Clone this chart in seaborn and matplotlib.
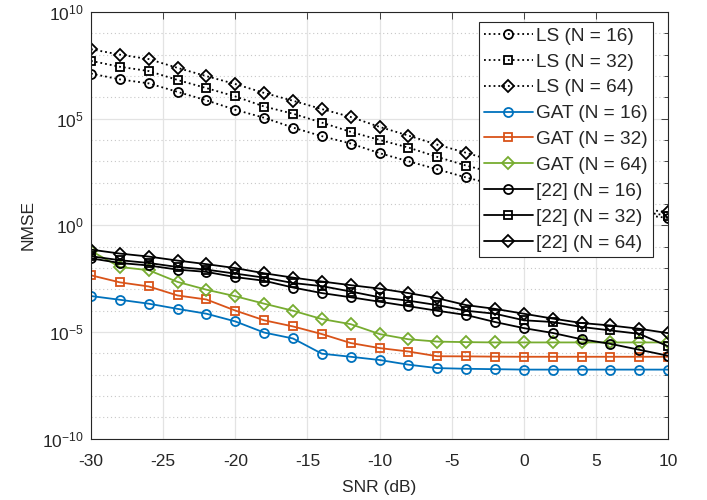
import numpy as np
import pandas as pd
import matplotlib
matplotlib.use("Agg")
import matplotlib.pyplot as plt
import seaborn as sns

# ---------------- data ----------------
snr = [-30, -28, -26, -24, -22, -20, -18, -16, -14, -12, -10,
       -8, -6, -4, -2, 0, 2, 4, 6, 8, 10]

ls_16 = [1.3e7, 6.9e6, 4.5e6, 1.8e6, 7.2e5, 2.6e5, 1.1e5, 3.8e4, 1.5e4, 6.8e3, 2.4e3,
         1.0e3, 420, 174, 79, 40, 20, 10, 5.6, 3.2, 2.2]
ls_32 = [5.1e7, 2.7e7, 1.7e7, 6.5e6, 2.7e6, 1.1e6, 3.7e5, 1.7e5, 6.5e4, 2.4e4, 1.0e4,
         4.4e3, 1.6e3, 630, 280, 126, 56, 25, 10, 4.5, 2.8]
ls_64 = [1.8e8, 1.0e8, 6.2e7, 2.4e7, 9.8e6, 4.2e6, 1.6e6, 6.9e5, 2.8e5, 1.2e5, 4.1e4,
         1.6e4, 6.0e3, 2.5e3, 1.0e3, 400, 160, 63, 20, 6.3, 4.0]

gat_16 = [4.8e-4, 3.2e-4, 2.1e-4, 1.2e-4, 7.1e-5, 3.1e-5, 9.3e-6, 4.9e-6, 9.5e-7, 6.8e-7, 4.8e-7,
          2.9e-7, 2.0e-7, 1.86e-7, 1.78e-7, 1.7e-7, 1.7e-7, 1.7e-7, 1.7e-7, 1.7e-7, 1.7e-7]
gat_32 = [4.5e-3, 2.1e-3, 1.35e-3, 5.1e-4, 3.3e-4, 1.0e-4, 3.5e-5, 1.8e-5, 7.9e-6, 3.0e-6, 1.74e-6,
          1.2e-6, 7.2e-7, 7.1e-7, 6.9e-7, 6.8e-7, 6.8e-7, 6.8e-7, 6.8e-7, 6.8e-7, 6.8e-7]
gat_64 = [6.3e-2, 1.1e-2, 7.8e-3, 2.2e-3, 9.5e-4, 4.7e-4, 2.1e-4, 9.8e-5, 4.0e-5, 2.3e-5, 7.9e-6,
          4.5e-6, 3.5e-6, 3.3e-6, 3.2e-6, 3.2e-6, 3.2e-6, 3.2e-6, 3.2e-6, 3.2e-6, 3.2e-6]

ref_16 = [2.8e-2, 1.7e-2, 1.3e-2, 8.3e-3, 6.5e-3, 3.7e-3, 2.5e-3, 1.2e-3, 6.6e-4, 4.2e-4, 2.6e-4,
          1.6e-4, 9.8e-5, 6.2e-5, 2.9e-5, 1.5e-5, 8.9e-6, 4.5e-6, 2.75e-6, 1.45e-6, 7.6e-7]
ref_32 = [3.5e-2, 2.3e-2, 1.7e-2, 1.1e-2, 8.3e-3, 5.4e-3, 3.5e-3, 1.95e-3, 1.4e-3, 7.8e-4, 4.2e-4,
          2.9e-4, 1.8e-4, 9.8e-5, 7.1e-5, 3.5e-5, 2.9e-5, 1.7e-5, 1.17e-5, 8.1e-6, 2.1e-6]
ref_64 = [7.2e-2, 4.7e-2, 3.4e-2, 2.2e-2, 1.5e-2, 9.8e-3, 5.6e-3, 3.5e-3, 2.3e-3, 1.55e-3, 1.07e-3,
          6.6e-4, 3.8e-4, 1.8e-4, 1.2e-4, 7.1e-5, 4.2e-5, 2.6e-5, 2.0e-5, 1.4e-5, 8.7e-6]

labels = ["LS (N = 16)", "LS (N = 32)", "LS (N = 64)",
          "GAT (N = 16)", "GAT (N = 32)", "GAT (N = 64)",
          "[22] (N = 16)", "[22] (N = 32)", "[22] (N = 64)"]
series = [ls_16, ls_32, ls_64, gat_16, gat_32, gat_64, ref_16, ref_32, ref_64]

xticks = [-30, -25, -20, -15, -10, -5, 0, 5, 10]
yticks = [1e-10, 1e-5, 1e0, 1e5, 1e10]
ytick_labels = [r"$10^{-10}$", r"$10^{-5}$", r"$10^{0}$", r"$10^{5}$", r"$10^{10}$"]

# ---------------- styles ----------------
colors = ["black", "black", "black",
          "#0072BD", "#D95319", "#77AC30",
          "black", "black", "black"]
markers = ["o", "s", "D", "o", "s", "D", "o", "s", "D"]
linestyles = [":", ":", ":", "-", "-", "-", "-", "-", "-"]
msizes = [6.5, 5.5, 6.2, 6.5, 5.5, 6.2, 6.5, 5.5, 6.2]

sns.set_theme(style="white")
plt.rcParams["font.family"] = ["Liberation Sans", "DejaVu Sans"]
plt.rcParams["mathtext.fontset"] = "custom"
plt.rcParams["mathtext.rm"] = "Liberation Sans"
plt.rcParams["mathtext.it"] = "Liberation Sans:italic"
plt.rcParams["mathtext.bf"] = "Liberation Sans:bold"
plt.rcParams["axes.unicode_minus"] = False

fig = plt.figure(figsize=(7.07, 5.0), dpi=100)
ax = fig.add_axes([0.1287, 0.123, 0.8163, 0.853])

rows = []
for lab, vals in zip(labels, series):
    for x, v in zip(snr, vals):
        rows.append({"SNR": x, "NMSE": v, "Method": lab})
df = pd.DataFrame(rows)

for lab, c, m, ls, ms in zip(labels, colors, markers, linestyles, msizes):
    sub = df[df["Method"] == lab]
    sns.lineplot(data=sub, x="SNR", y="NMSE", ax=ax, color=c, marker=m,
                 linestyle=ls, linewidth=1.3, markersize=ms,
                 markerfacecolor="none", markeredgecolor=c, markeredgewidth=1.3,
                 label=lab, estimator=None, errorbar=None)

ax.set_yscale("log")
ax.set_xlim(-30, 10)
ax.set_ylim(1e-10, 1e10)
ax.set_xticks(xticks)
ax.set_xticklabels([str(t) for t in xticks])
ax.set_yticks(yticks)
ax.set_yticklabels(ytick_labels)
ax.set_yticks([10.0 ** k for k in range(-10, 11) if k % 5 != 0], minor=True)
ax.set_yticklabels([], minor=True)
ax.xaxis.set_minor_locator(matplotlib.ticker.NullLocator())

ax.set_axisbelow(True)
ax.grid(which="major", color="#e3e3e3", linestyle="-", linewidth=0.9)
ax.yaxis.grid(which="minor", color="#c8c8c8", linestyle=(0, (1, 2.5)), linewidth=0.8)

axc = "#262626"
for s in ax.spines.values():
    s.set_visible(True)
    s.set_color(axc)
    s.set_linewidth(0.8)
ax.tick_params(which="both", direction="in", top=True, right=True,
               colors=axc, width=0.6)
ax.tick_params(axis="x", which="major", length=5, pad=11, labelsize=12.5)
ax.tick_params(axis="y", which="major", length=5, pad=5, labelsize=12.5)
ax.tick_params(which="minor", length=3)

ax.set_xlabel("SNR (dB)", fontsize=12.5, color=axc, labelpad=8)
ax.set_ylabel("NMSE", fontsize=12.5, color=axc, labelpad=5)

leg = ax.legend(loc="upper left", bbox_to_anchor=(0.672, 0.9766), borderaxespad=0,
                fontsize=13.7, frameon=True, fancybox=False, framealpha=1,
                edgecolor=axc, handlelength=2.55, handletextpad=0.2,
                labelspacing=0.45, borderpad=0.28, numpoints=1)
leg.get_frame().set_linewidth(0.8)

fig.savefig("out.png", dpi=100)
